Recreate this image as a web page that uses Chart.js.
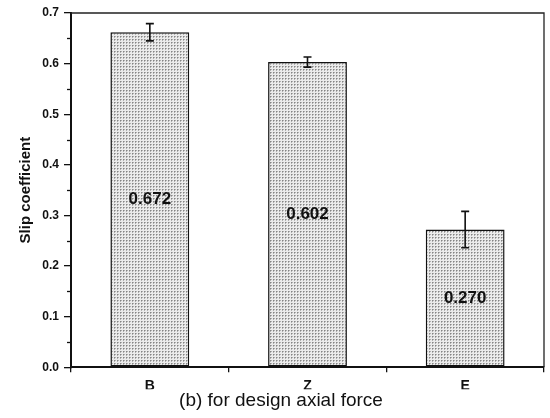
<!DOCTYPE html>
<html>
<head>
<meta charset="utf-8">
<script src="https://cdn.jsdelivr.net/npm/chart.js@4.4.0/dist/chart.umd.min.js"></script>
<style>
  html, body { margin: 0; padding: 0; background: #ffffff; }
  #wrap { width: 550px; height: 418px; }
</style>
</head>
<body>
<div id="wrap"><canvas id="c" width="550" height="418"></canvas></div>
<script>
const categories = ['B', 'Z', 'E'];
const values = [0.662, 0.603, 0.272];
const errors = [0.017, 0.010, 0.036];
const valueLabels = ['0.672', '0.602', '0.270'];
const yMin = 0.0;
const yMax = 0.7;
const yStep = 0.1;
const yMinorStep = 0.05;
const xTitle = '(b) for design axial force';
const yTitle = 'Slip coefficient';

function makePattern() {
  const p = document.createElement('canvas');
  p.width = 3; p.height = 3;
  const g = p.getContext('2d');
  g.fillStyle = '#ebebeb';
  g.fillRect(0, 0, 3, 3);
  g.fillStyle = '#858585';
  g.fillRect(0, 0, 1, 1);
  g.fillStyle = '#b0b0b0';
  g.fillRect(1, 0, 1, 1);
  g.fillRect(0, 1, 1, 1);
  const ctx = document.getElementById('c').getContext('2d');
  return ctx.createPattern(p, 'repeat');
}

const extras = {
  id: 'extras',
  afterDatasetsDraw(chart) {
    const ctx = chart.ctx;
    const ys = chart.scales.y;
    const meta = chart.getDatasetMeta(0);
    ctx.save();
    // error bars
    ctx.strokeStyle = '#111';
    ctx.lineWidth = 1.6;
    meta.data.forEach((el, i) => {
      const x = el.x;
      const t = ys.getPixelForValue(values[i] + errors[i]);
      const b = ys.getPixelForValue(values[i] - errors[i]);
      ctx.beginPath();
      ctx.moveTo(x, t); ctx.lineTo(x, b);
      ctx.moveTo(x - 4, t); ctx.lineTo(x + 4, t);
      ctx.moveTo(x - 4, b); ctx.lineTo(x + 4, b);
      ctx.stroke();
    });
    // value labels inside bars
    ctx.fillStyle = '#111';
    ctx.font = 'bold 17px "Liberation Sans", Arial, sans-serif';
    ctx.textAlign = 'center';
    ctx.textBaseline = 'middle';
    meta.data.forEach((el, i) => {
      ctx.fillText(valueLabels[i], el.x, ys.getPixelForValue(values[i] / 2));
    });
    ctx.restore();
  },
  afterDraw(chart) {
    const ctx = chart.ctx;
    const a = chart.chartArea;
    const ys = chart.scales.y;
    ctx.save();
    // frame top and right
    ctx.strokeStyle = '#222';
    ctx.lineWidth = 1.3;
    ctx.beginPath();
    ctx.moveTo(a.left, a.top); ctx.lineTo(a.right, a.top); ctx.lineTo(a.right, a.bottom);
    ctx.stroke();
    // minor y ticks
    ctx.lineWidth = 1.3;
    ctx.strokeStyle = '#111';
    for (let v = yMin + yMinorStep; v < yMax; v += yStep) {
      const y = Math.round(ys.getPixelForValue(v)) + 0.5;
      ctx.beginPath();
      ctx.moveTo(a.left - 4, y); ctx.lineTo(a.left, y);
      ctx.stroke();
    }
    ctx.restore();
  }
};

new Chart(document.getElementById('c'), {
  type: 'bar',
  data: {
    labels: categories,
    datasets: [{
      data: values,
      backgroundColor: makePattern(),
      borderColor: '#111',
      borderWidth: 1.5,
      borderSkipped: false,
      categoryPercentage: 1.0,
      barPercentage: 0.5
    }]
  },
  options: {
    responsive: false,
    animation: false,
    layout: { padding: { left: 18, right: 6, top: 13, bottom: 0 } },
    plugins: {
      legend: { display: false },
      tooltip: { enabled: false },
      title: {
        display: true,
        position: 'bottom',
        text: xTitle,
        color: '#111',
        font: { family: '"Liberation Sans", Arial, sans-serif', size: 19, weight: 'normal', lineHeight: 1.2 },
        padding: { top: 0, bottom: 6 }
      }
    },
    scales: {
      x: {
        afterFit(s) { s.height = 22; },
        grid: { display: true, drawOnChartArea: false, drawTicks: true, tickLength: 5, color: '#111', lineWidth: 1.3 },
        border: { display: true, color: '#111', width: 2 },
        ticks: { color: '#111', padding: 6, font: { family: '"Liberation Sans", Arial, sans-serif', size: 14, weight: 'bold' } }
      },
      y: {
        min: yMin,
        max: yMax,
        afterFit(s) { s.width = 53; },
        grid: { display: true, drawOnChartArea: false, drawTicks: true, tickLength: 7, color: '#111', lineWidth: 1.3 },
        border: { display: true, color: '#111', width: 2 },
        ticks: {
          stepSize: yStep,
          color: '#111',
          padding: 5,
          font: { family: '"Liberation Sans", Arial, sans-serif', size: 12, weight: 'bold' },
          callback: (v) => Number(v).toFixed(1)
        },
        title: {
          display: true,
          text: yTitle,
          color: '#111',
          padding: 0,
          font: { family: '"Liberation Sans", Arial, sans-serif', size: 15, weight: 'bold', lineHeight: 1 }
        }
      }
    }
  },
  plugins: [extras]
});
</script>
</body>
</html>
